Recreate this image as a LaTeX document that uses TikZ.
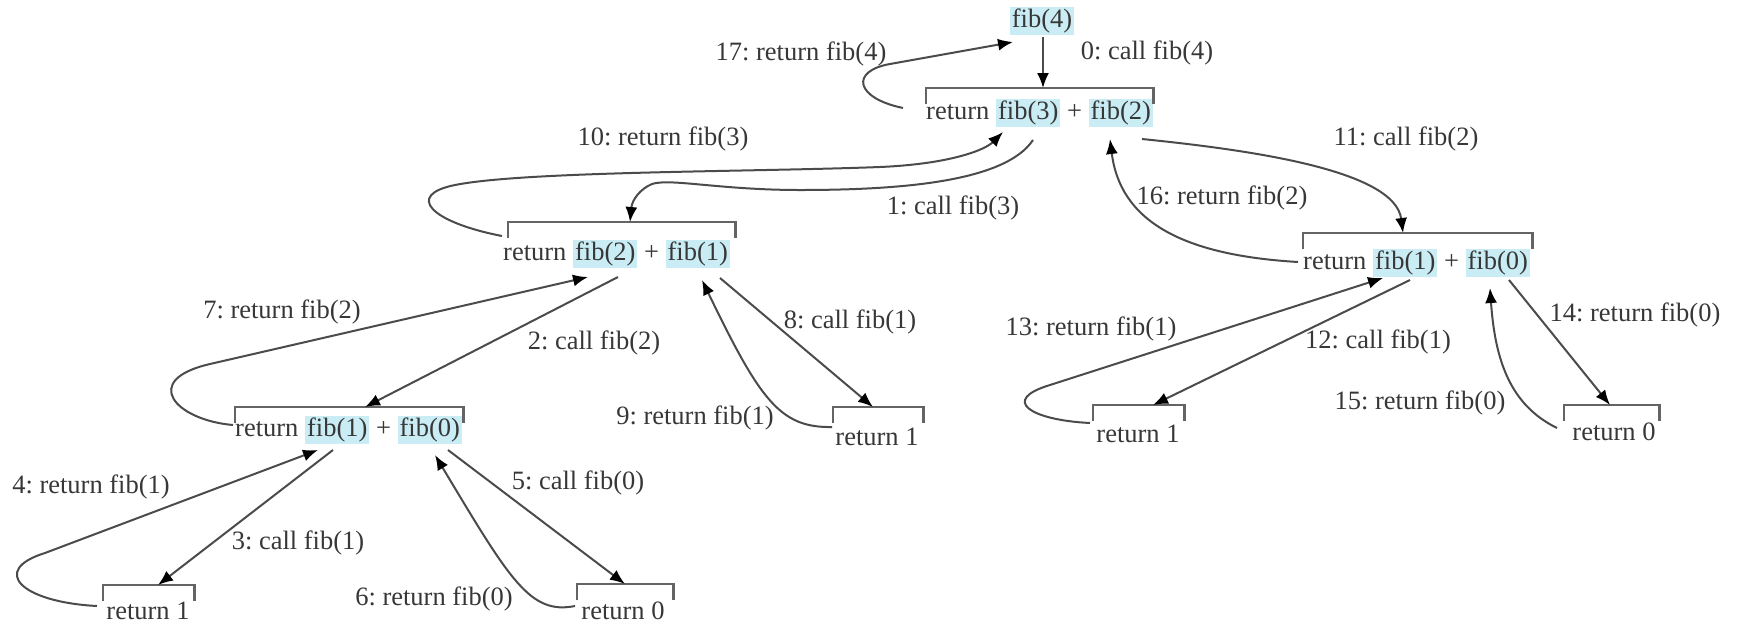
\documentclass[tikz,border=0pt]{standalone}
\usepackage{fontspec}
\setmainfont{Liberation Serif}
\usetikzlibrary{arrows.meta}
\definecolor{hlc}{RGB}{202,237,245}
\definecolor{txt}{RGB}{55,55,55}
\definecolor{lnc}{RGB}{75,75,75}
\definecolor{bcol}{RGB}{100,100,100}
\frenchspacing
\newcommand\hlx[1]{{\setlength\fboxsep{2pt}\colorbox{hlc}{#1}}}
\newcommand\bracketat[4]{%
  \node[brk, minimum width=#4pt] (#1) at (#2,#3) {};
  \draw[bk] (#1.south west) |- (#1.north east) -- (#1.south east);}
\begin{document}
\begin{tikzpicture}[x=1pt,y=-1pt,
  every node/.style={font=\fontsize{26.5}{30}\selectfont\frenchspacing, text=txt, inner sep=0pt},
  frm/.style={anchor=west},
  brk/.style={anchor=north west, minimum height=16pt, inner sep=0pt},
  bk/.style={draw=bcol, line width=2.2pt},
  arr/.style={draw=lnc, line width=2pt, -{Latex[length=15pt,width=12pt,color=black]}},
]
\useasboundingbox (0,0) rectangle (1737,622);

% frames
\node (F4) at (1042,21) {\hlx{fib(4)}};
\node[frm] (T) at (926,113) {return \hlx{fib(3)} + \hlx{fib(2)}};
\node[frm] (L) at (503,254) {return \hlx{fib(2)} + \hlx{fib(1)}};
\node[frm] (R) at (1303,263) {return \hlx{fib(1)} + \hlx{fib(0)}};
\node[frm] (LL) at (235,430) {return \hlx{fib(1)} + \hlx{fib(0)}};
\node (r1a) at (148,611) {return 1};
\node (r0a) at (623,611) {return 0};
\node (r1b) at (877,437) {return 1};
\node (r1c) at (1138,434) {return 1};
\node (r0c) at (1614,432) {return 0};

\bracketat{Tb}{926}{88}{227}
\bracketat{Lb}{508}{222}{227}
\bracketat{Rb}{1303}{233}{229}
\bracketat{LLb}{235}{407}{228}
\bracketat{r1ab}{103}{585}{91}
\bracketat{r0ab}{577}{584}{96}
\bracketat{r1bb}{833}{407}{90}
\bracketat{r1cb}{1093}{405}{91}
\bracketat{r0cb}{1564}{405}{95}

% labels
\node (l0) at (1147,53) {0: call fib(4)};
\node (l17) at (801,54) {17: return fib(4)};
\node (l10) at (663,139) {10: return fib(3)};
\node (l11) at (1406,139) {11: call fib(2)};
\node (l16) at (1222,198) {16: return fib(2)};
\node (l1) at (953,208) {1: call fib(3)};
\node (l7) at (282,312) {7: return fib(2)};
\node (l8) at (850,322) {8: call fib(1)};
\node (l2) at (594,343) {2: call fib(2)};
\node (l9) at (695,418) {9: return fib(1)};
\node (l13) at (1091,329) {13: return fib(1)};
\node (l12) at (1378,342) {12: call fib(1)};
\node (l14) at (1635,315) {14: return fib(0)};
\node (l15) at (1420,403) {15: return fib(0)};
\node (l4) at (91,487) {4: return fib(1)};
\node (l5) at (578,483) {5: call fib(0)};
\node (l3) at (298,543) {3: call fib(1)};
\node (l6) at (434,599) {6: return fib(0)};

% connectors
\draw[arr] (1043,37) -- (Tb.north -| 1043,0);
\draw[arr] (903,108) .. controls (855,98) and (850,71) .. (890,64) -- (1013,42);
\draw[arr] (1033,140) .. controls (1005,182) and (900,190) .. (800,190) .. controls (720,190) and (670,178) .. (652,184) .. controls (640,189) and (632,200) .. (Lb.north -| 630,0);
\draw[arr] (502,236) .. controls (430,222) and (405,195) .. (455,185) .. controls (525,171) and (750,172) .. (880,167) .. controls (950,164) and (985,150) .. (1003,132);
\draw[arr] (1142,139) .. controls (1250,150) and (1395,170) .. (Rb.north -| 1403,0);
\draw[arr] (1298,262) .. controls (1180,255) and (1120,220) .. (1110,139);
\draw[arr] (618,277) -- (LLb.north -| 365,0);
\draw[arr] (233,425) .. controls (175,420) and (140,380) .. (210,364) -- (588,277);
\draw[arr] (720,278) -- (r1bb.north -| 873,0);
\draw[arr] (832,427) .. controls (780,428) and (760,400) .. (702,280);
\draw[arr] (333,450) -- (r1ab.north -| 158,0);
\draw[arr] (97,606) .. controls (20,602) and (-10,570) .. (45,553) -- (318,450);
\draw[arr] (448,450) -- (r0ab.north -| 625,0);
\draw[arr] (575,606) .. controls (530,615) and (510,580) .. (435,455);
\draw[arr] (1410,280) -- (r1cb.north -| 1153,0);
\draw[arr] (1090,423) .. controls (1030,420) and (1000,400) .. (1050,385) -- (1383,278);
\draw[arr] (1509,280) -- (r0cb.north -| 1610,0);
\draw[arr] (1557,428) .. controls (1510,405) and (1495,360) .. (1490,288);
\end{tikzpicture}
\end{document}
